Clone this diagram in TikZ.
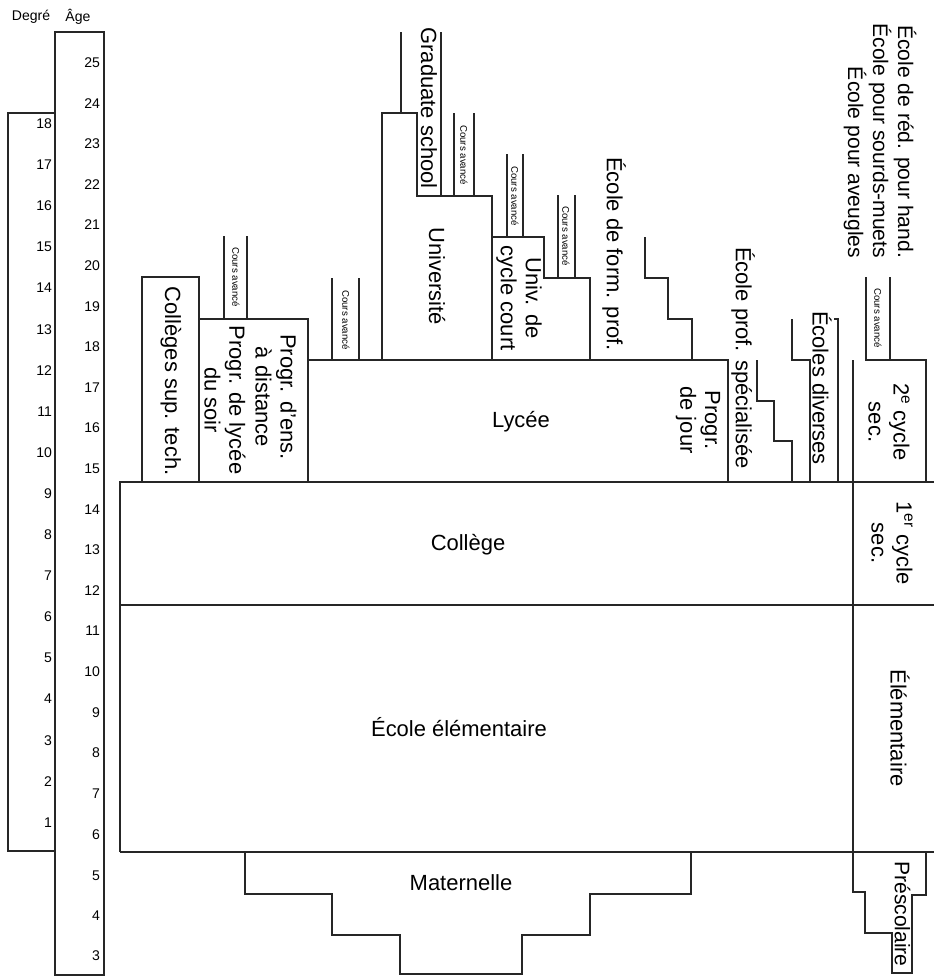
\documentclass[tikz,border=0pt]{standalone}
\usepackage{fontspec}
\setmainfont{Liberation Sans}

\begin{document}
\begin{tikzpicture}[x=0.02cm,y=-0.02cm,line width=1.1pt,draw=black!85,
  lbl/.style={rotate=-90,align=center,inner sep=0pt,font=\fontsize{12.5}{14.2}\selectfont},
  flat/.style={align=center,inner sep=0pt,font=\fontsize{12.5}{14.2}\selectfont},
  num/.style={anchor=east,inner sep=0pt,font=\fontsize{8}{9}\selectfont},
  avance/.style={rotate=-90,inner sep=0pt,font=\fontsize{5.5}{6}\selectfont}]

\useasboundingbox (0,0) rectangle (934,977);

\draw (8,113) rectangle (55,851);
\draw (55,32) rectangle (104,975);
\node[inner sep=0pt,font=\fontsize{8}{9}\selectfont] (degre) at (31,17) {Degré};
\node[inner sep=0pt,font=\fontsize{8}{9}\selectfont] (age) at (78,17) {Âge};

\node[num] (a25) at (101,63) {25};
\node[num] (a24) at (101,104) {24};
\node[num] (a23) at (101,144) {23};
\node[num] (a22) at (101,185) {22};
\node[num] (a21) at (101,225) {21};
\node[num] (a20) at (101,266) {20};
\node[num] (a19) at (101,307) {19};
\node[num] (a18) at (101,347) {18};
\node[num] (a17) at (101,388) {17};
\node[num] (a16) at (101,428) {16};
\node[num] (a15) at (101,469) {15};
\node[num] (a14) at (101,510) {14};
\node[num] (a13) at (101,550) {13};
\node[num] (a12) at (101,591) {12};
\node[num] (a11) at (101,631) {11};
\node[num] (a10) at (101,672) {10};
\node[num] (a9) at (101,713) {9};
\node[num] (a8) at (101,753) {8};
\node[num] (a7) at (101,794) {7};
\node[num] (a6) at (101,835) {6};
\node[num] (a5) at (101,876) {5};
\node[num] (a4) at (101,916) {4};
\node[num] (a3) at (101,956) {3};

\node[num] (d18) at (53,124) {18};
\node[num] (d17) at (53,165) {17};
\node[num] (d16) at (53,206) {16};
\node[num] (d15) at (53,247) {15};
\node[num] (d14) at (53,288) {14};
\node[num] (d13) at (53,330) {13};
\node[num] (d12) at (53,371) {12};
\node[num] (d11) at (53,412) {11};
\node[num] (d10) at (53,453) {10};
\node[num] (d9) at (53,494) {9};
\node[num] (d8) at (53,535) {8};
\node[num] (d7) at (53,576) {7};
\node[num] (d6) at (53,617) {6};
\node[num] (d5) at (53,658) {5};
\node[num] (d4) at (53,699) {4};
\node[num] (d3) at (53,741) {3};
\node[num] (d2) at (53,782) {2};
\node[num] (d1) at (53,823) {1};


\draw (120,852) -- (120,482) -- (934,482);
\draw (120,605) -- (934,605);
\draw (120,852) -- (934,852);
\draw (853,360) -- (853,892) -- (865,892) -- (865,933) -- (892,933) -- (892,973)
  -- (912,973) -- (912,895) -- (926,895) -- (926,852);
\draw (245,852) -- (245,894) -- (332,894) -- (332,935) -- (400,935) -- (400,974)
  -- (522,974) -- (522,935) -- (590,935) -- (590,894) -- (691,894) -- (691,852);

\draw (142,482) -- (142,277) -- (199,277) -- (199,482);
\draw (199,319) -- (308,319) -- (308,482);
\draw (224,236) -- (224,319);
\draw (247,236) -- (247,319);

\draw (308,360) -- (728,360) -- (728,482);
\draw (332,278) -- (332,360);
\draw (359,278) -- (359,360);

\draw (382,360) -- (382,113) -- (417,113) -- (417,196) -- (492,196) -- (492,360);
\draw (401,32) -- (401,113);
\draw (441,32) -- (441,196);
\draw (454,113) -- (454,196);
\draw (474,113) -- (474,196);

\draw (492,237) -- (544,237) -- (544,278) -- (590,278) -- (590,360);
\draw (507,154) -- (507,237);
\draw (523,154) -- (523,237);
\draw (558,195) -- (558,278);
\draw (575,195) -- (575,278);

\draw (645,237) -- (645,278) -- (668,278) -- (668,319) -- (692,319) -- (692,360);
\draw (757,360) -- (757,401) -- (774,401) -- (774,441) -- (792,441) -- (792,482);
\draw (792,319) -- (792,360) -- (810,360) -- (810,482);
\draw (834,319) -- (838,319) -- (838,482);

\draw (866,277) -- (866,360) -- (926,360) -- (926,482);
\draw (890,277) -- (890,360);


\node[lbl] (colsup) at (171,381) {Collèges sup. tech.};
\node[lbl] (soir) at (225,400) {Progr. de lycée\\du soir};
\node[lbl] (distance) at (276,397) {Progr. d'ens.\\à distance};
\node[lbl] (grad) at (429,108) {Graduate school};
\node[lbl] (univ) at (437,276) {Université};
\node[lbl] (cycourt) at (519,298) {Univ. de\\cycle court};
\node[lbl] (formprof) at (614,254) {École de form. prof.};
\node[lbl] (jour) at (698,420) {Progr.\\de jour};
\node[lbl] (special) at (743,358) {École prof. spécialisée};
\node[lbl] (diverses) at (822,388) {Écoles diverses};
\node[lbl,anchor=east,align=right,font=\fontsize{12}{14.2}\selectfont] (handi) at (880,259)
  {École de réd. pour hand.\\École pour sourds-muets\\École pour aveugles};
\node[lbl] (cycle2) at (889,422) {2\textsuperscript{e} cycle\\sec.};
\node[lbl] (cycle1) at (892,543) {1\textsuperscript{er} cycle\\sec.};
\node[lbl] (elem) at (900,728) {Élémentaire};
\node[lbl,font=\fontsize{12}{14}\selectfont] (presco) at (902.5,914) {Préscolaire};

\node[flat] (lycee) at (521,422) {Lycée};
\node[flat] (college) at (468,545) {Collège};
\node[flat] (ecole) at (459,727) {École élémentaire};
\node[flat] (maternelle) at (461,883) {Maternelle};

\node[avance] (ca1) at (236,277) {Cours avancé};
\node[avance] (ca2) at (346,320) {Cours avancé};
\node[avance] (ca3) at (464,155) {Cours avancé};
\node[avance] (ca4) at (515,196) {Cours avancé};
\node[avance] (ca5) at (566,236) {Cours avancé};
\node[avance] (ca6) at (878,318) {Cours avancé};

\end{tikzpicture}
\end{document}
